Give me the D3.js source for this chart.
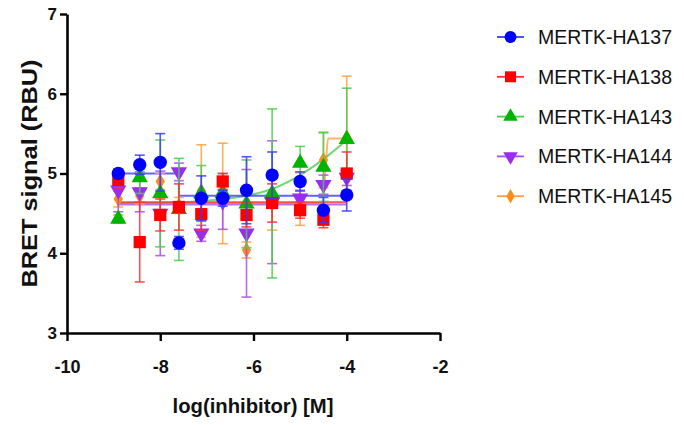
<!DOCTYPE html>
<html>
<head>
<meta charset="utf-8">
<script src="https://cdn.jsdelivr.net/npm/d3@7"></script>
<style>
body { margin: 0; background: #fff; }
svg text { font-family: Arial, "Liberation Sans", sans-serif; }
</style>
</head>
<body>
<script>
// log concentrations (x) and series means / SEM
var logConc = [-8.9, -8.44, -8.0, -7.6, -7.12, -6.66, -6.15, -5.6, -5.0, -4.5, -4.0];

var ha137 = [5.0, 5.11, 5.14, 4.13, 4.69, 4.69, 4.79, 4.98, 4.9, 4.54, 4.73];
var ha137Err = [0.05, 0.12, 0.36, 0.08, 0.28, 0.1, 0.42, 0.29, 0.12, 0.16, 0.2];
var ha138 = [4.92, 4.14, 4.48, 4.58, 4.49, 4.9, 4.48, 4.63, 4.54, 4.42, 5.0];
var ha138Err = [0.1, 0.5, 0.2, 0.29, 0.2, 0.1, 0.15, 0.24, 0.1, 0.1, 0.27];
var ha143 = [4.43, 4.95, 4.75, 4.55, 4.75, 4.76, 4.62, 4.75, 5.13, 5.08, 5.43];
var ha143Err = [0.05, 0.2, 0.67, 0.64, 0.35, 0.1, 0.55, 1.06, 0.21, 0.43, 0.64];
var ha144 = [4.79, 4.77, 4.5, 5.02, 4.25, 4.65, 4.25, 4.64, 4.69, 4.86, 4.95];
var ha144Err = [0.27, 0.25, 0.53, 0.11, 0.1, 0.35, 0.8, 0.77, 0.1, 0.12, 0.1];
var ha145 = [4.68, 4.72, 4.9, 4.6, 4.78, 4.75, 4.04, 4.63, 4.68, 5.17, 5.45];
var ha145Err = [0.1, 0.1, 0.1, 0.1, 0.58, 0.63, 0.1, 0.34, 0.33, 0.35, 0.77];

// fitted lines, read as points from the plot
var fit137X = [-8.9, -7.6, -7.6, -4.0];
var fit137Y = [5.0, 5.0, 4.72, 4.72];
var fit138X = [-8.9, -4.0];
var fit138Y = [4.64, 4.64];
var fit143X = [-8.9, -7.5, -7.0, -6.5, -6.0, -5.5, -5.0, -4.5, -4.0];
var fit143Y = [4.63, 4.64, 4.66, 4.69, 4.74, 4.83, 4.98, 5.18, 5.42];
var fit144X = [-8.9, -4.0];
var fit144Y = [4.61, 4.61];
var fit145X = [-8.9, -4.52, -4.45, -4.4, -4.0];
var fit145Y = [4.63, 4.63, 5.1, 5.44, 5.44];

var seriesNames = ["MERTK-HA137", "MERTK-HA138", "MERTK-HA143", "MERTK-HA144", "MERTK-HA145"];
var xTicks = [-10, -8, -6, -4, -2];
var yTicks = [3, 4, 5, 6, 7];

var width = 684,
	height = 425;

var series = [
	{name: seriesNames[0], y: ha137, err: ha137Err, fx: fit137X, fy: fit137Y, color: "#0000ff", light: "#3b3bff", shape: d3.symbolCircle, size: 140, curve: d3.curveLinear},
	{name: seriesNames[1], y: ha138, err: ha138Err, fx: fit138X, fy: fit138Y, color: "#ff0000", light: "#ff3030", shape: d3.symbolSquare, size: 150, curve: d3.curveLinear},
	{name: seriesNames[2], y: ha143, err: ha143Err, fx: fit143X, fy: fit143Y, color: "#00b400", light: "#4ccc4c", shape: d3.symbolTriangle, size: 115, curve: d3.curveMonotoneX},
	{name: seriesNames[3], y: ha144, err: ha144Err, fx: fit144X, fy: fit144Y, color: "#9a2cf2", light: "#a64df2", shape: d3.symbolTriangle, size: 115, curve: d3.curveLinear, flip: true},
	{name: seriesNames[4], y: ha145, err: ha145Err, fx: fit145X, fy: fit145Y, color: "#ff8c1a", light: "#ffa040", shape: d3.symbolDiamond, size: 75, curve: d3.curveMonotoneX}
];

var svg = d3.select("body")
	.append("svg")
	.attr("width", width)
	.attr("height", height);

var x = d3.scaleLinear().domain([-10, -2]).range([67, 440]);
var y = d3.scaleLinear().domain([3, 7]).range([333, 14]);

// axes (plain hyphen for minus signs, like the original)
var xAxis = svg.append("g")
	.attr("transform", "translate(0," + y(3) + ")")
	.call(d3.axisBottom(x).tickValues(xTicks).tickFormat(function(d) { return String(d); })
		.tickSize(8).tickPadding(19).tickSizeOuter(0));
var yAxis = svg.append("g")
	.attr("transform", "translate(" + x(-10) + ",0)")
	.call(d3.axisLeft(y).tickValues(yTicks).tickFormat(function(d) { return String(d); })
		.tickSize(7).tickPadding(3).tickSizeOuter(0));

[xAxis, yAxis].forEach(function(a) {
	a.select(".domain").attr("stroke", "#000").attr("stroke-width", 2.6);
	a.selectAll(".tick line").attr("stroke", "#000").attr("stroke-width", 2.4);
	a.selectAll(".tick text")
		.attr("fill", "#111")
		.style("font-size", "18px")
		.style("font-weight", "bold");
});
yAxis.selectAll(".tick text").style("font-size", "17px");

svg.append("text")
	.attr("x", 253)
	.attr("y", 413)
	.attr("text-anchor", "middle")
	.attr("textLength", 161)
	.attr("lengthAdjust", "spacingAndGlyphs")
	.style("font-size", "20px")
	.style("font-weight", "bold")
	.attr("fill", "#111")
	.text("log(inhibitor) [M]");

svg.append("text")
	.attr("transform", "translate(29," + y(5) + ") rotate(-90)")
	.attr("text-anchor", "middle")
	.attr("dy", "0.35em")
	.attr("textLength", 228)
	.attr("lengthAdjust", "spacingAndGlyphs")
	.style("font-size", "22px")
	.style("font-weight", "bold")
	.attr("fill", "#111")
	.text("BRET signal (RBU)");

var plot = svg.append("g");

function symbolPath(s) {
	return d3.symbol().type(s.shape).size(s.size)();
}

// fit lines first, under the points
series.slice().reverse().forEach(function(s) {
	var pts = s.fx.map(function(v, i) { return [v, s.fy[i]]; });
	plot.append("path")
		.datum(pts)
		.attr("fill", "none")
		.attr("stroke", s.light)
		.attr("stroke-opacity", 0.8)
		.attr("stroke-width", 2)
		.attr("d", d3.line().curve(s.curve)
			.x(function(d) { return x(d[0]); })
			.y(function(d) { return y(d[1]); }));
});

// error bars and points, HA137 drawn last so it sits on top
series.slice().reverse().forEach(function(s) {
	var g = plot.append("g");
	var rows = logConc.map(function(c, i) { return {c: c, v: s.y[i], e: s.err[i]}; });

	var bars = g.selectAll(".bar").data(rows).enter().append("g").attr("class", "bar");
	bars.append("line")
		.attr("x1", function(d) { return x(d.c); })
		.attr("x2", function(d) { return x(d.c); })
		.attr("y1", function(d) { return y(d.v - d.e); })
		.attr("y2", function(d) { return y(d.v + d.e); });
	bars.append("line")
		.attr("x1", function(d) { return x(d.c) - 5; })
		.attr("x2", function(d) { return x(d.c) + 5; })
		.attr("y1", function(d) { return y(d.v + d.e); })
		.attr("y2", function(d) { return y(d.v + d.e); });
	bars.append("line")
		.attr("x1", function(d) { return x(d.c) - 5; })
		.attr("x2", function(d) { return x(d.c) + 5; })
		.attr("y1", function(d) { return y(d.v - d.e); })
		.attr("y2", function(d) { return y(d.v - d.e); });
	bars.selectAll("line")
		.attr("stroke", s.light)
		.attr("stroke-opacity", 0.85)
		.attr("stroke-width", 1.6);

	g.selectAll(".pt").data(rows).enter().append("path")
		.attr("class", "pt")
		.attr("d", symbolPath(s))
		.attr("fill", s.color)
		.attr("transform", function(d) {
			return "translate(" + x(d.c) + "," + y(d.v) + ")" + (s.flip ? " rotate(180)" : "");
		});
});

// legend
var legend = svg.append("g");
series.forEach(function(s, i) {
	var ly = 37 + i * 39.8;
	var row = legend.append("g").attr("transform", "translate(0," + ly + ")");
	row.append("line")
		.attr("x1", 497).attr("x2", 524)
		.attr("stroke", s.light)
		.attr("stroke-width", 1.8);
	row.append("path")
		.attr("d", d3.symbol().type(s.shape).size(s.size * 0.8)())
		.attr("fill", s.color)
		.attr("transform", "translate(510.5,0)" + (s.flip ? " rotate(180)" : ""));
	row.append("text")
		.attr("x", 538)
		.attr("dy", "0.36em")
		.style("font-size", "19.5px")
		.attr("fill", "#111")
		.text(s.name);
});
</script>
</body>
</html>
